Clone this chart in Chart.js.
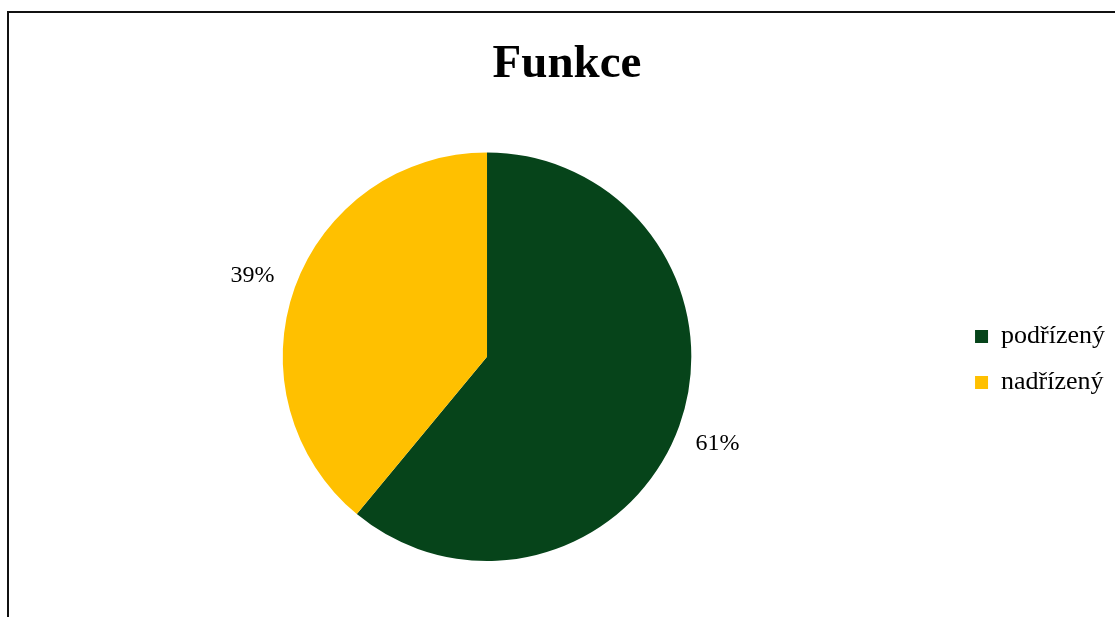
<!DOCTYPE html>
<html lang="cs">
<head>
    <meta charset="UTF-8">
    <title>Funkce</title>
    <script src="https://cdn.jsdelivr.net/npm/chart.js@4.4.1/dist/chart.umd.min.js"></script>
    <style>
        body { margin: 0; background: #fff; }
        #wrap { position: relative; width: 1115px; height: 617px; overflow: hidden; }
        #frame { position: absolute; left: 7px; top: 11px; width: 1200px; height: 700px; border: 2px solid #111; }
        canvas { position: absolute; left: 0; top: 0; }
    </style>
</head>
<body>
<div id="wrap">
    <div id="frame"></div>
    <canvas id="pie-chart" width="1115" height="617"></canvas>
</div>
<script>
    const labels = ['podřízený', 'nadřízený'];
    const values = [61, 39];
    const colors = ['#06441A', '#FFC000'];

    // percentage labels outside the slices
    const outerLabels = {
        id: 'outerLabels',
        afterDatasetsDraw(chart) {
            const ctx = chart.ctx;
            const meta = chart.getDatasetMeta(0);
            const total = values.reduce((a, b) => a + b, 0);
            ctx.save();
            ctx.font = '24px "Liberation Serif", "Times New Roman", serif';
            ctx.fillStyle = '#000';
            ctx.textAlign = 'center';
            ctx.textBaseline = 'middle';
            meta.data.forEach(function (arc, i) {
                const p = arc.getProps(['x', 'y', 'startAngle', 'endAngle', 'outerRadius'], true);
                const mid = (p.startAngle + p.endAngle) / 2;
                const r = p.outerRadius * 1.21;
                const txt = Math.round(values[i] / total * 100) + '%';
                ctx.fillText(txt, p.x + Math.cos(mid) * r - 2, p.y + Math.sin(mid) * r + 3);
            });
            ctx.restore();
        }
    };

    new Chart(document.getElementById('pie-chart'), {
        type: 'pie',
        data: {
            labels: labels,
            datasets: [{
                data: values,
                backgroundColor: colors,
                borderWidth: 0
            }]
        },
        options: {
            responsive: false,
            animation: false,
            layout: { padding: { left: 19, right: 0, top: 0, bottom: 56 } },
            plugins: {
                title: {
                    display: true,
                    text: 'Funkce',
                    color: '#000',
                    font: { family: '"Liberation Serif", "Times New Roman", serif', size: 47, weight: 'bold' },
                    padding: { top: 37, bottom: 59 }
                },
                legend: {
                    position: 'right',
                    title: {
                        display: true,
                        text: ' ',
                        font: { size: 10 },
                        padding: { top: 146, bottom: 0 }
                    },
                    labels: {
                        color: '#000',
                        boxWidth: 13,
                        boxHeight: 13,
                        padding: 20,
                        font: { family: '"Liberation Serif", "Times New Roman", serif', size: 26 }
                    }
                },
                tooltip: { enabled: false }
            }
        },
        plugins: [outerLabels]
    });
</script>
</body>
</html>
